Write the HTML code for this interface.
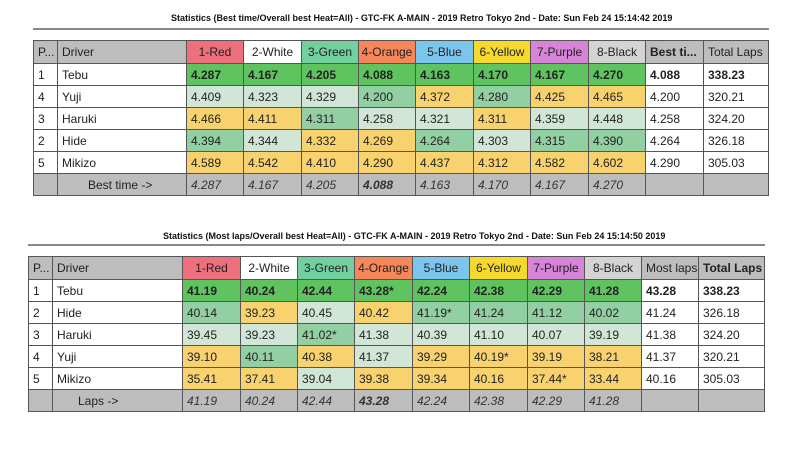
<!DOCTYPE html>
<html><head><meta charset="utf-8"><style>
body{margin:0;width:800px;height:453px;background:#fff;position:relative;overflow:hidden;font-family:"Liberation Sans",sans-serif;}
.t{position:absolute;font-family:"Liberation Sans",sans-serif;font-weight:bold;font-size:9px;color:#111;white-space:nowrap;}
.ln{position:absolute;height:2px;background:#888;}
table{position:absolute;border-collapse:collapse;table-layout:fixed;font-size:12px;color:#222;}
td{border:1px solid #555;padding:0 0 0 4px;white-space:nowrap;overflow:hidden;height:21px;}
tr.h td{height:22px;font-size:12px}
tr.h td.c{text-align:center;padding:0}
.g{background:#bdbdbd}.w{background:#fff}
.R{background:#ee6f7e}.G{background:#72cf9e}.O{background:#f5875b}.B{background:#7cc6ee}.Y{background:#f6d92f}.P{background:#d884d9}.K{background:#d4d4d4}
.s{background:#5fc45f;font-weight:bold}
.m{background:#92cfa2}.l{background:#d2e6d8}.y{background:#f8d26f}
.b{font-weight:bold}.i{font-style:italic;color:#333}
</style></head><body>
<div class="t" style="left:171px;top:13px">Statistics (Best time/Overall best Heat=All) - GTC-FK A-MAIN - 2019 Retro Tokyo 2nd - Date: Sun Feb 24 15:14:42 2019</div>
<div class="ln" style="left:33px;top:28px;width:736px"></div>
<table style="left:33px;top:40px;width:735px">
<colgroup><col style="width:24px"><col style="width:129px"><col style="width:57px"><col style="width:58px"><col style="width:57px"><col style="width:57px"><col style="width:58px"><col style="width:57px"><col style="width:58px"><col style="width:57px"><col style="width:58px"><col style="width:65px"></colgroup>
<tr class="h"><td class="g">P...</td><td class="g">Driver</td><td class="R c">1-Red</td><td class="w c">2-White</td><td class="G c">3-Green</td><td class="O c">4-Orange</td><td class="B c">5-Blue</td><td class="Y c">6-Yellow</td><td class="P c">7-Purple</td><td class="K c">8-Black</td><td class="g b">Best ti...</td><td class="g">Total Laps</td></tr>
<tr><td>1</td><td>Tebu</td><td class="s">4.287</td><td class="s">4.167</td><td class="s">4.205</td><td class="s">4.088</td><td class="s">4.163</td><td class="s">4.170</td><td class="s">4.167</td><td class="s">4.270</td><td class="b">4.088</td><td class="b">338.23</td></tr>
<tr><td>4</td><td>Yuji</td><td class="l">4.409</td><td class="l">4.323</td><td class="l">4.329</td><td class="m">4.200</td><td class="y">4.372</td><td class="m">4.280</td><td class="y">4.425</td><td class="y">4.465</td><td>4.200</td><td>320.21</td></tr>
<tr><td>3</td><td>Haruki</td><td class="y">4.466</td><td class="y">4.411</td><td class="m">4.311</td><td class="l">4.258</td><td class="l">4.321</td><td class="y">4.311</td><td class="l">4.359</td><td class="l">4.448</td><td>4.258</td><td>324.20</td></tr>
<tr><td>2</td><td>Hide</td><td class="m">4.394</td><td class="l">4.344</td><td class="y">4.332</td><td class="y">4.269</td><td class="m">4.264</td><td class="l">4.303</td><td class="m">4.315</td><td class="m">4.390</td><td>4.264</td><td>326.18</td></tr>
<tr><td>5</td><td>Mikizo</td><td class="y">4.589</td><td class="y">4.542</td><td class="y">4.410</td><td class="y">4.290</td><td class="y">4.437</td><td class="y">4.312</td><td class="y">4.582</td><td class="y">4.602</td><td>4.290</td><td>305.03</td></tr>
<tr class="g"><td></td><td style="padding-left:30px">Best time -&gt;</td><td class="i">4.287</td><td class="i">4.167</td><td class="i">4.205</td><td class="i b">4.088</td><td class="i">4.163</td><td class="i">4.170</td><td class="i">4.167</td><td class="i">4.270</td><td></td><td></td></tr>
</table>

<div class="t" style="left:163px;top:231px">Statistics (Most laps/Overall best Heat=All) - GTC-FK A-MAIN - 2019 Retro Tokyo 2nd - Date: Sun Feb 24 15:14:50 2019</div>
<div class="ln" style="left:28px;top:244px;width:737px"></div>
<table style="left:28px;top:256px;width:736px">
<colgroup><col style="width:24px"><col style="width:130px"><col style="width:58px"><col style="width:57px"><col style="width:57px"><col style="width:58px"><col style="width:57px"><col style="width:58px"><col style="width:57px"><col style="width:57px"><col style="width:57px"><col style="width:66px"></colgroup>
<tr class="h"><td class="g">P...</td><td class="g">Driver</td><td class="R c">1-Red</td><td class="w c">2-White</td><td class="G c">3-Green</td><td class="O c">4-Orange</td><td class="B c">5-Blue</td><td class="Y c">6-Yellow</td><td class="P c">7-Purple</td><td class="K c">8-Black</td><td class="g">Most laps</td><td class="g b">Total Laps</td></tr>
<tr><td>1</td><td>Tebu</td><td class="s">41.19</td><td class="s">40.24</td><td class="s">42.44</td><td class="s">43.28*</td><td class="s">42.24</td><td class="s">42.38</td><td class="s">42.29</td><td class="s">41.28</td><td class="b">43.28</td><td class="b">338.23</td></tr>
<tr><td>2</td><td>Hide</td><td class="m">40.14</td><td class="y">39.23</td><td class="l">40.45</td><td class="y">40.42</td><td class="m">41.19*</td><td class="m">41.24</td><td class="m">41.12</td><td class="m">40.02</td><td>41.24</td><td>326.18</td></tr>
<tr><td>3</td><td>Haruki</td><td class="l">39.45</td><td class="l">39.23</td><td class="m">41.02*</td><td class="l">41.38</td><td class="l">40.39</td><td class="l">41.10</td><td class="l">40.07</td><td class="l">39.19</td><td>41.38</td><td>324.20</td></tr>
<tr><td>4</td><td>Yuji</td><td class="y">39.10</td><td class="m">40.11</td><td class="y">40.38</td><td class="l">41.37</td><td class="y">39.29</td><td class="y">40.19*</td><td class="y">39.19</td><td class="y">38.21</td><td>41.37</td><td>320.21</td></tr>
<tr><td>5</td><td>Mikizo</td><td class="y">35.41</td><td class="y">37.41</td><td class="l">39.04</td><td class="y">39.38</td><td class="y">39.34</td><td class="y">40.16</td><td class="y">37.44*</td><td class="y">33.44</td><td>40.16</td><td>305.03</td></tr>
<tr class="g"><td></td><td style="padding-left:25px">Laps -&gt;</td><td class="i">41.19</td><td class="i">40.24</td><td class="i">42.44</td><td class="i b">43.28</td><td class="i">42.24</td><td class="i">42.38</td><td class="i">42.29</td><td class="i">41.28</td><td></td><td></td></tr>
</table>
</body></html>
